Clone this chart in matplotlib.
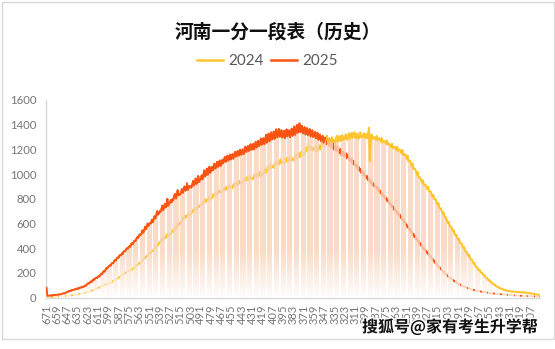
import numpy as np
import matplotlib
matplotlib.use("Agg")
import matplotlib.pyplot as plt
from matplotlib.lines import Line2D
from matplotlib.patches import Rectangle
import matplotlib.patheffects as pe

plt.rcParams['font.family'] = ['Lato', 'Noto Sans CJK SC', 'DejaVu Sans']

# scores from 671 down to 96, one category per point
scores = list(range(671, 95, -1))

# number of candidates per score, 12 scores per row
count_2024 = [
    6, 3, 3, 4, 4, 5, 5, 5, 6, 6, 7, 7,
    8, 8, 9, 9, 10, 10, 11, 11, 12, 13, 13, 14,
    15, 16, 16, 17, 18, 19, 20, 20, 21, 23, 24, 25,
    26, 27, 28, 30, 31, 32, 34, 35, 37, 39, 41, 43,
    45, 47, 50, 52, 55, 58, 60, 63, 65, 68, 71, 74,
    78, 81, 84, 87, 90, 94, 97, 100, 104, 108, 111, 115,
    112, 120, 118, 126, 130, 127, 138, 142, 140, 150, 155, 152,
    162, 168, 165, 176, 184, 180, 192, 198, 195, 206, 212, 208,
    218, 215, 224, 232, 228, 240, 245, 242, 255, 262, 258, 272,
    280, 276, 292, 300, 296, 312, 320, 316, 332, 340, 336, 352,
    360, 356, 372, 380, 376, 392, 400, 396, 412, 425, 420, 438,
    454, 448, 460, 480, 465, 476, 498, 482, 494, 515, 498, 510,
    520, 514, 528, 548, 532, 552, 572, 558, 575, 598, 582, 600,
    612, 605, 630, 648, 632, 645, 665, 648, 662, 682, 665, 678,
    685, 678, 700, 712, 695, 711, 732, 714, 728, 752, 732, 748,
    752, 745, 768, 782, 762, 775, 798, 778, 790, 815, 792, 805,
    810, 802, 828, 840, 820, 832, 858, 835, 848, 872, 850, 862,
    858, 850, 878, 890, 868, 878, 900, 876, 888, 912, 886, 898,
    895, 888, 915, 925, 900, 912, 935, 910, 922, 948, 920, 935,
    935, 928, 958, 970, 944, 952, 978, 950, 960, 985, 956, 970,
    965, 958, 990, 1002, 972, 980, 1008, 978, 988, 1020, 985, 1005,
    1000, 992, 1030, 1042, 1010, 1030, 1062, 1032, 1050, 1082, 1048, 1070,
    1062, 1050, 1090, 1102, 1070, 1082, 1110, 1078, 1090, 1120, 1085, 1102,
    1098, 1085, 1122, 1135, 1100, 1110, 1140, 1105, 1115, 1145, 1110, 1128,
    1125, 1110, 1152, 1165, 1128, 1140, 1172, 1135, 1150, 1182, 1145, 1165,
    1170, 1155, 1200, 1218, 1182, 1210, 1240, 1198, 1215, 1225, 1190, 1212,
    1200, 1188, 1228, 1195, 1180, 1215, 1235, 1200, 1222, 1258, 1225, 1248,
    1255, 1238, 1278, 1310, 1245, 1262, 1292, 1250, 1268, 1298, 1258, 1275,
    1268, 1255, 1298, 1310, 1262, 1278, 1308, 1268, 1285, 1315, 1275, 1290,
    1285, 1322, 1290, 1278, 1318, 1330, 1288, 1302, 1335, 1295, 1305, 1338,
    1300, 1292, 1328, 1298, 1285, 1322, 1338, 1298, 1310, 1296, 1330, 1302,
    1295, 1325, 1290, 1302, 1375, 1105, 1290, 1322, 1282, 1295, 1298, 1290,
    1280, 1308, 1275, 1285, 1290, 1282, 1262, 1292, 1258, 1268, 1268, 1262,
    1245, 1272, 1238, 1248, 1242, 1235, 1218, 1245, 1210, 1220, 1220, 1212,
    1195, 1222, 1188, 1198, 1198, 1190, 1168, 1195, 1155, 1162, 1160, 1148,
    1125, 1150, 1105, 1112, 1105, 1090, 1062, 1085, 1040, 1045, 1038, 1020,
    995, 1015, 972, 975, 968, 952, 930, 950, 912, 915, 912, 898,
    880, 898, 862, 860, 858, 838, 818, 832, 800, 795, 795, 770,
    752, 765, 728, 722, 722, 698, 680, 690, 660, 648, 648, 618,
    605, 615, 582, 575, 575, 552, 538, 545, 515, 505, 508, 482,
    470, 478, 448, 440, 440, 418, 402, 410, 380, 372, 372, 350,
    338, 345, 318, 312, 310, 290, 278, 282, 258, 250, 250, 230,
    222, 228, 208, 202, 202, 188, 178, 182, 165, 158, 158, 144,
    138, 140, 126, 120, 120, 108, 104, 105, 94, 90, 90, 82,
    78, 80, 72, 70, 70, 64, 62, 63, 58, 56, 57, 53,
    52, 53, 50, 49, 50, 48, 47, 48, 46, 45, 46, 44,
    44, 45, 43, 42, 43, 41, 41, 41, 39, 38, 38, 36,
    35, 35, 33, 32, 31, 29, 28, 27, 25, 24, 23, 21,
]

count_2025 = [
    80, 14, 15, 17, 16, 18, 19, 18, 20, 21, 22, 21,
    23, 24, 25, 27, 26, 28, 30, 33, 35, 34, 37, 40,
    45, 50, 48, 55, 58, 56, 62, 60, 64, 68, 66, 72,
    75, 70, 78, 82, 79, 86, 89, 85, 93, 98, 96, 104,
    112, 118, 115, 125, 132, 128, 140, 149, 145, 155, 162, 158,
    168, 175, 172, 184, 195, 190, 208, 215, 210, 228, 240, 236,
    248, 255, 262, 258, 275, 282, 279, 296, 305, 300, 318, 325,
    322, 338, 346, 342, 360, 352, 372, 380, 375, 392, 400, 396,
    410, 418, 412, 436, 441, 432, 455, 462, 458, 478, 490, 484,
    505, 512, 508, 520, 545, 526, 540, 575, 555, 572, 600, 580,
    598, 606, 600, 632, 610, 636, 660, 640, 662, 700, 672, 680,
    700, 694, 712, 745, 708, 722, 760, 730, 752, 800, 742, 760,
    768, 790, 772, 798, 790, 825, 840, 802, 830, 870, 828, 842,
    835, 850, 880, 848, 870, 900, 866, 880, 925, 872, 888, 905,
    902, 890, 915, 945, 908, 925, 965, 920, 938, 985, 935, 955,
    960, 990, 958, 990, 1030, 980, 998, 1045, 995, 1015, 1060, 1010,
    1025, 1060, 1030, 1052, 1085, 1045, 1062, 1100, 1058, 1072, 1110, 1066,
    1080, 1115, 1088, 1110, 1140, 1098, 1112, 1150, 1108, 1122, 1158, 1118,
    1130, 1162, 1125, 1152, 1180, 1140, 1158, 1188, 1148, 1162, 1198, 1156,
    1168, 1200, 1162, 1190, 1222, 1178, 1195, 1228, 1186, 1202, 1242, 1196,
    1208, 1245, 1200, 1222, 1262, 1215, 1232, 1270, 1226, 1245, 1288, 1238,
    1250, 1290, 1242, 1268, 1318, 1255, 1278, 1328, 1265, 1288, 1338, 1280,
    1292, 1345, 1285, 1305, 1362, 1298, 1315, 1365, 1302, 1325, 1355, 1296,
    1318, 1350, 1290, 1312, 1362, 1305, 1322, 1355, 1298, 1330, 1368, 1310,
    1325, 1385, 1318, 1340, 1398, 1335, 1360, 1410, 1340, 1362, 1392, 1330,
    1348, 1380, 1320, 1335, 1372, 1315, 1330, 1365, 1305, 1328, 1355, 1300,
    1312, 1342, 1290, 1302, 1335, 1278, 1295, 1320, 1268, 1285, 1310, 1255,
    1270, 1295, 1240, 1255, 1280, 1228, 1242, 1268, 1212, 1225, 1250, 1198,
    1210, 1235, 1185, 1198, 1220, 1168, 1180, 1205, 1150, 1162, 1185, 1140,
    1150, 1172, 1128, 1140, 1162, 1110, 1125, 1098, 1128, 1082, 1108, 1075,
    1080, 1058, 1075, 1040, 1060, 1025, 1045, 1010, 1028, 995, 1015, 985,
    990, 965, 985, 950, 965, 935, 955, 915, 936, 905, 922, 895,
    905, 880, 898, 862, 878, 848, 862, 830, 846, 815, 828, 800,
    810, 785, 796, 768, 778, 748, 760, 730, 742, 712, 724, 698,
    705, 680, 692, 662, 674, 645, 656, 628, 637, 610, 619, 590,
    592, 568, 576, 548, 556, 528, 535, 510, 518, 490, 498, 472,
    480, 455, 462, 435, 442, 418, 425, 398, 405, 382, 388, 365,
    372, 350, 355, 332, 338, 315, 320, 298, 302, 282, 286, 265,
    268, 250, 252, 234, 236, 220, 222, 205, 206, 192, 193, 178,
    180, 166, 168, 155, 156, 144, 145, 134, 135, 125, 126, 116,
    117, 108, 109, 101, 102, 94, 95, 88, 89, 82, 83, 77,
    78, 72, 73, 68, 68, 64, 64, 60, 60, 57, 57, 54,
    54, 51, 51, 48, 49, 46, 46, 43, 44, 41, 41, 39,
    40, 37, 38, 36, 36, 34, 34, 32, 33, 31, 31, 29,
    30, 28, 28, 27, 27, 25, 26, 24, 24, 23, 23, 22,
    22, 21, 21, 20, 20, 19, 19, 18, 18, 17, 17, 16,
    16, 15, 16, 15, 15, 14, 14, 13, 14, 13, 13, 12,
    12, 12, 12, 11, 11, 11, 11, 10, 10, 10, 10, 9,
]

series_names = ['2024', '2025']
line_colors = ['#ffc52c', '#fb5412']
y_ticks = [0, 200, 400, 600, 800, 1000, 1200, 1400, 1600]

W, H = 555, 349
fig = plt.figure(figsize=(W / 100, H / 100), dpi=100)
ax = fig.add_axes([46 / W, 1 - 297.7 / H, 494 / W, 197.7 / H])

n = len(scores)
x = np.arange(n)
a = np.array(count_2024, dtype=float)
b = np.array(count_2025, dtype=float)
top = np.maximum(a, b)

lw = 1.3
# both lines underneath the column overlay
ax.plot(x, a, color=line_colors[0], lw=lw, zorder=2)
ax.plot(x, b, color=line_colors[1], lw=lw, zorder=2)

# columns: vertical gradient (peach -> white) with thin white gaps
alpha = 0.8
ny = 400
vals = np.linspace(0, 1600, ny)
t = np.clip(vals / 380.0, 0, 1) ** 0.9
peach_seen = np.array([250, 220, 200]) / 255.0
peach = (peach_seen - (1 - alpha)) / alpha
rgb = 1 - t[:, None] * (1 - peach[None, :])
ncol = 494
col = np.arange(ncol)
gap = ((col + 2.0) % 6.7) < 1.5
img = np.zeros((ny, ncol, 4))
img[:, :, :3] = np.clip(rgb[:, None, :], 0, 1)
img[:, :, 3] = alpha
img[:, gap, 3] = 0.0
im = ax.imshow(img, extent=(-0.5, n - 0.5, 0, 1600), origin='lower',
               aspect='auto', interpolation='nearest', zorder=3)
env = ax.fill_between(x, top, 0, step='mid', facecolor='none', edgecolor='none')
im.set_clip_path(env.get_paths()[0], ax.transData)

# whichever series is on top stays fully visible above the columns
ax.plot(x, np.where(a >= b, a, np.nan), color=line_colors[0], lw=lw, zorder=4)
ax.plot(x, np.where(b >= a, b, np.nan), color=line_colors[1], lw=lw, zorder=4)

ax.set_xlim(-0.5, n - 0.5)
ax.set_ylim(0, 1600)
ax.set_yticks(y_ticks)
ax.set_yticklabels([str(v) for v in y_ticks], fontsize=8.2, color='#767676')
tick_pos = x[::12]
ax.set_xticks(tick_pos)
ax.set_xticklabels([str(scores[i]) for i in tick_pos], rotation=90,
                   fontsize=8, color='#767676')
ax.tick_params(axis='both', length=0)
ax.tick_params(axis='y', pad=7)
ax.tick_params(axis='x', pad=5)
for s in ['top', 'right']:
    ax.spines[s].set_visible(False)
for s in ['left', 'bottom']:
    ax.spines[s].set_color('#d9d9d9')
    ax.spines[s].set_linewidth(1.0)

fig.text(0.5, 1 - 32 / H, '河南一分一段表（历史）', ha='center', va='center',
         fontsize=13.5, fontweight='bold', color='#111111',
         family=['Noto Sans CJK SC', 'DejaVu Sans'])

handles = [Line2D([], [], color=c, lw=1.8) for c in line_colors]
fig.legend(handles, series_names, loc='center',
           bbox_to_anchor=(267.5 / W, 1 - 61 / H), ncol=2, frameon=False,
           fontsize=11, handlelength=1.7, handletextpad=0.35,
           columnspacing=0.45, labelcolor='#595959')

# chart area border
fig.patches.append(Rectangle((1.5 / W, 1 - 338.5 / H), 552 / W, 337 / H,
                             transform=fig.transFigure, fill=False,
                             edgecolor='#d9d9d9', lw=1.0))

fig.text(538 / W, 1 - 327 / H, '搜狐号@家有考生升学帮', ha='right', va='center',
         fontsize=11.5, fontweight='bold', color='#111111',
         family=['Noto Sans CJK SC', 'DejaVu Sans'],
         path_effects=[pe.withStroke(linewidth=2.2, foreground='white')])

fig.savefig('out.png', dpi=100, facecolor='white')
